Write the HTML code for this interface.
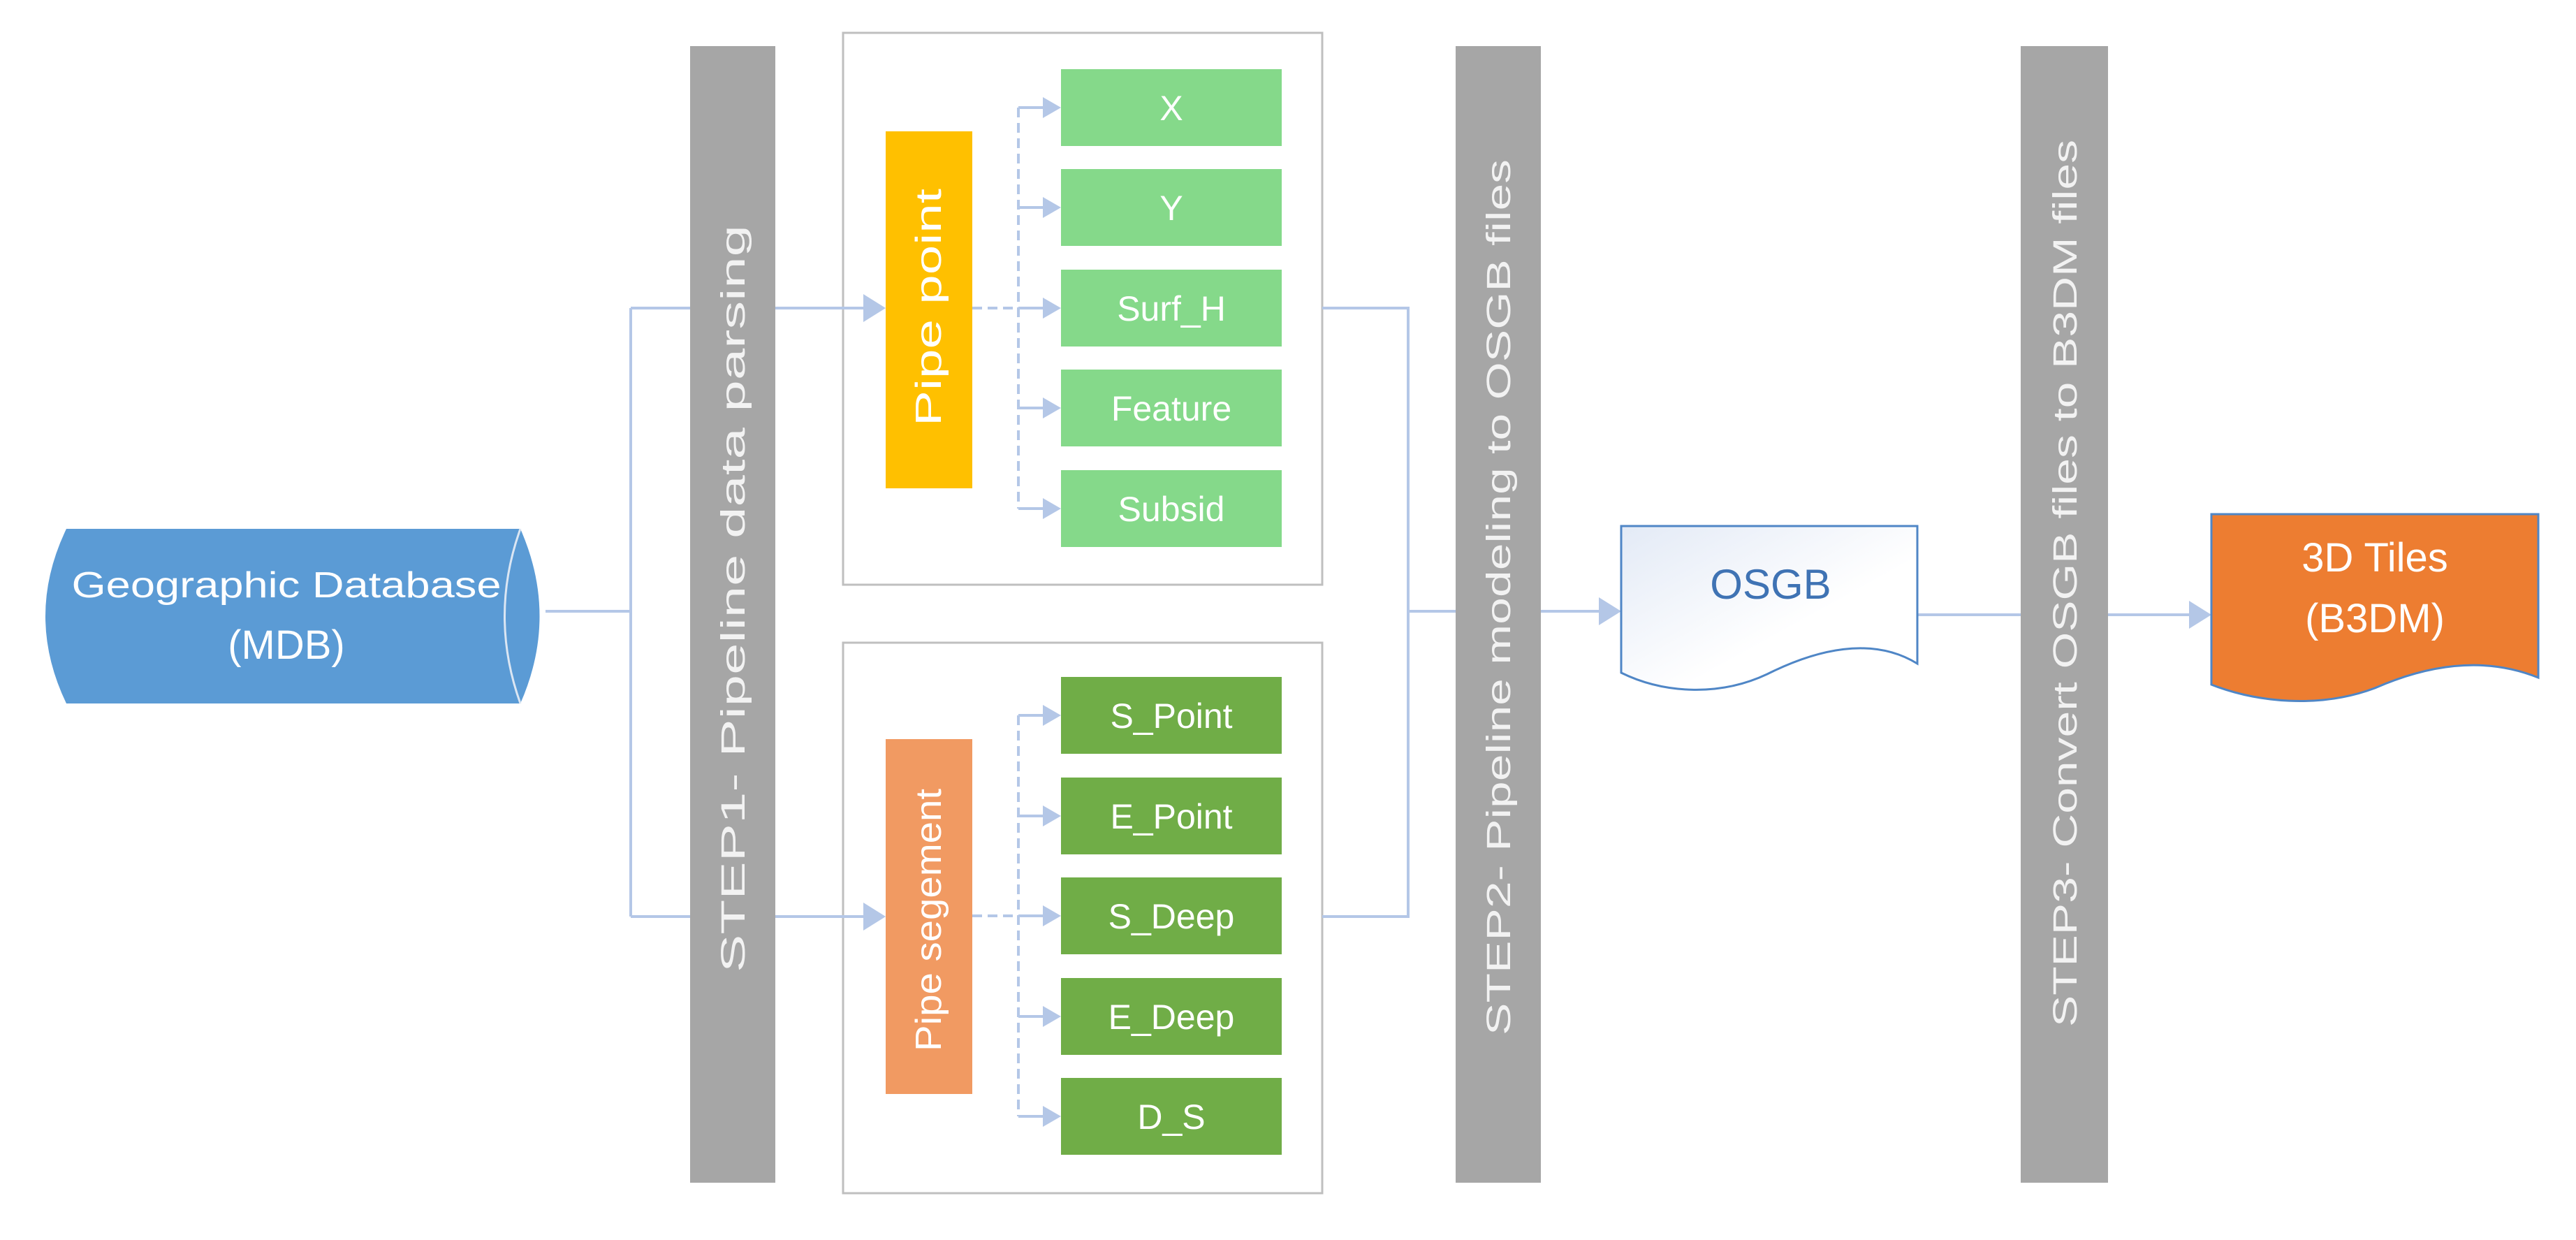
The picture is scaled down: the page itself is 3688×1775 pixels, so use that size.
<!DOCTYPE html>
<html><head><meta charset="utf-8"><style>
html,body{margin:0;padding:0;background:#fff;width:3688px;height:1775px;overflow:hidden}
svg{display:block}
text{font-family:"Liberation Sans",sans-serif}
</style></head><body>
<svg width="3688" height="1775" viewBox="0 0 3688 1775" xmlns="http://www.w3.org/2000/svg">
<defs>
<linearGradient id="dg" x1="0" y1="0" x2="1" y2="1"><stop offset="0" stop-color="#e3eaf6"/><stop offset="0.6" stop-color="#ffffff"/></linearGradient>
</defs>
<!-- boxes -->
<rect x="1207" y="47" width="686" height="790" fill="#fff" stroke="#bfbfbf" stroke-width="3"/>
<rect x="1207" y="920" width="686" height="788" fill="#fff" stroke="#bfbfbf" stroke-width="3"/>
<g stroke="#b4c7e7" stroke-width="4" fill="none">
<path d="M781,875 H903 M903,441 V1312 M903,441 H988 M903,1312 H988 M1110,441 H1240 M1110,1312 H1240"/>
<path d="M1893,441 H2016 V1312 H1893 M2016,875 H2084 M2206,875 H2292 M2745,880 H2893 M3018,880 H3136"/>
</g>
<g fill="#b4c7e7">
<polygon points="1268,441 1236,421 1236,461"/>
<polygon points="1268,1312 1236,1292 1236,1332"/>
<polygon points="2321,875 2289,855 2289,895"/>
<polygon points="3166,880 3134,860 3134,900"/>
</g>
<!-- dashed -->
<g stroke="#b4c7e7" stroke-width="4" fill="none" stroke-dasharray="14,8">
<path d="M1392,441 H1458 M1458,154 V728 M1392,1311 H1458 M1458,1024 V1598"/>
</g>
<g stroke="#b4c7e7" stroke-width="4" fill="none">
<path d="M1458,154 H1495 M1458,297 H1495 M1458,441 H1495 M1458,584 H1495 M1458,728 H1495"/>
<path d="M1458,1024 H1495 M1458,1168 H1495 M1458,1311 H1495 M1458,1455 H1495 M1458,1598 H1495"/>
</g>
<g fill="#b4c7e7">
<polygon points="1519,154 1493,139 1493,169"/><polygon points="1519,297 1493,282 1493,312"/><polygon points="1519,441 1493,426 1493,456"/><polygon points="1519,584 1493,569 1493,599"/><polygon points="1519,728 1493,713 1493,743"/>
<polygon points="1519,1024 1493,1009 1493,1039"/><polygon points="1519,1168 1493,1153 1493,1183"/><polygon points="1519,1311 1493,1296 1493,1326"/><polygon points="1519,1455 1493,1440 1493,1470"/><polygon points="1519,1598 1493,1583 1493,1613"/>
</g>
<!-- bars -->
<rect x="988" y="66" width="122" height="1627" fill="#a6a6a6"/>
<rect x="2084" y="66" width="122" height="1627" fill="#a6a6a6"/>
<rect x="2893" y="66" width="125" height="1627" fill="#a6a6a6"/>
<g fill="#f2f2f2" font-size="48">
<text transform="translate(1066,857) rotate(-90)" text-anchor="middle" textLength="1070" lengthAdjust="spacingAndGlyphs">STEP1- Pipeline  data  parsing</text>
<text transform="translate(2162,855) rotate(-90)" text-anchor="middle" textLength="1254" lengthAdjust="spacingAndGlyphs">STEP2- Pipeline  modeling  to  OSGB  files</text>
<text transform="translate(2973,835) rotate(-90)" text-anchor="middle" textLength="1270" lengthAdjust="spacingAndGlyphs">STEP3- Convert  OSGB  files  to  B3DM  files</text>
</g>
<!-- pipe boxes -->
<rect x="1268" y="188" width="124" height="511" fill="#ffc000"/>
<rect x="1268" y="1058" width="124" height="508" fill="#f19a62"/>
<g fill="#fff" font-size="52">
<text transform="translate(1347,440) rotate(-90)" text-anchor="middle" textLength="340" lengthAdjust="spacingAndGlyphs">Pipe point</text>
<text transform="translate(1347,1317) rotate(-90)" text-anchor="middle" textLength="376" lengthAdjust="spacingAndGlyphs">Pipe segement</text>
</g>
<!-- green boxes -->
<g fill="#85d98a">
<rect x="1519" y="99" width="316" height="110"/><rect x="1519" y="242" width="316" height="110"/><rect x="1519" y="386" width="316" height="110"/><rect x="1519" y="529" width="316" height="110"/><rect x="1519" y="673" width="316" height="110"/>
</g>
<g fill="#70ad47">
<rect x="1519" y="969" width="316" height="110"/><rect x="1519" y="1113" width="316" height="110"/><rect x="1519" y="1256" width="316" height="110"/><rect x="1519" y="1400" width="316" height="110"/><rect x="1519" y="1543" width="316" height="110"/>
</g>
<g fill="#fff" font-size="50" text-anchor="middle">
<text x="1677" y="172">X</text><text x="1677" y="315">Y</text><text x="1677" y="459">Surf_H</text><text x="1677" y="602">Feature</text><text x="1677" y="746">Subsid</text>
<text x="1677" y="1042">S_Point</text><text x="1677" y="1186">E_Point</text><text x="1677" y="1329">S_Deep</text><text x="1677" y="1473">E_Deep</text><text x="1677" y="1616">D_S</text>
</g>
<!-- cylinder -->
<path d="M95,757 H745 Q800,882 745,1007 H95 Q35,882 95,757 Z" fill="#5b9bd5"/>
<path d="M745,757 Q700,882 745,1007" fill="none" stroke="#dbe6f3" stroke-width="3"/>
<g fill="#fff" text-anchor="middle">
<text x="410" y="855" font-size="52" textLength="615" lengthAdjust="spacingAndGlyphs">Geographic Database</text>
<text x="410" y="943" font-size="58">(MDB)</text>
</g>
<!-- OSGB -->
<path d="M2321,753 H2745 V950 C2680,910 2600,930 2530,965 C2460,998 2380,992 2321,963 Z" fill="url(#dg)" stroke="#4f86c6" stroke-width="3"/>
<text x="2535" y="857" font-size="60" fill="#3f73b4" text-anchor="middle">OSGB</text>
<!-- 3D tiles -->
<path d="M3166,736 H3634 V970 C3560,940 3480,950 3400,985 C3320,1015 3230,1005 3166,980 Z" fill="#ed7d31" stroke="#4f86c6" stroke-width="3"/>
<g fill="#fff" text-anchor="middle" font-size="58">
<text x="3400" y="818">3D Tiles</text>
<text x="3400" y="905">(B3DM)</text>
</g>
</svg>
</body></html>
